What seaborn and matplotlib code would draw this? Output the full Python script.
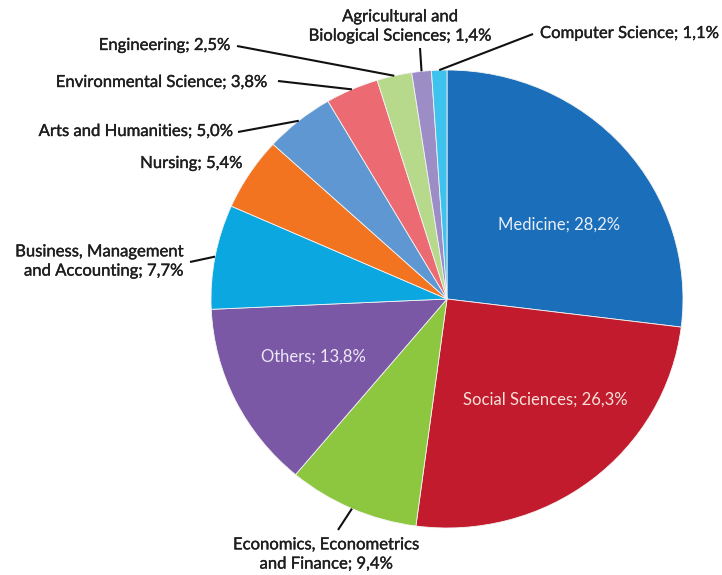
import matplotlib
matplotlib.use("Agg")
import matplotlib.pyplot as plt
import matplotlib.patheffects as pe
import seaborn as sns
import numpy as np

# Share of publications by subject area (%)
subjects = [
    "Medicine", "Social Sciences", "Economics, Econometrics\nand Finance", "Others",
    "Business, Management\nand Accounting", "Nursing", "Arts and Humanities",
    "Environmental Science", "Engineering", "Agricultural and\nBiological Sciences",
    "Computer Science",
]
shares = [28.2, 26.3, 9.4, 13.8, 7.7, 5.4, 5.0, 3.8, 2.5, 1.4, 1.1]
share_labels = ["28,2%", "26,3%", "9,4%", "13,8%", "7,7%", "5,4%", "5,0%",
                "3,8%", "2,5%", "1,4%", "1,1%"]
slice_colors = ["#1b6fba", "#c11b2d", "#8dc63f", "#7a58a6", "#0ba7e1", "#f27421",
                "#5e97d2", "#ec6a72", "#b6d98b", "#9c8dc7", "#3ec3ee"]

sns.set_theme(style="white")
plt.rcParams["font.family"] = ["Lato", "DejaVu Sans"]

W, H = 722, 575
fig = plt.figure(figsize=(W / 100, H / 100), dpi=100)
ax = fig.add_axes([0, 0, 1, 1])

# pie geometry in pixel space (slightly squashed vertically)
cx, cy, rx, ry = 447, 299, 236, 229


def px(x, y):
    """pixel position (origin top-left) -> data coordinates"""
    return (x - cx) / rx, (cy - y) / ry


palette = sns.color_palette(slice_colors)
wedges, _ = ax.pie(shares, colors=palette, startangle=90, counterclock=False,
                   wedgeprops=dict(edgecolor="#f4f4f4", linewidth=0.6))
ax.set_aspect("auto")
ax.set_xlim(px(0, 0)[0], px(W, 0)[0])
ax.set_ylim(px(0, H)[1], px(0, 0)[1])
ax.axis("off")

text_dark = "#1e1e1e"
fs = 12

# label placement: (mode, anchor x, anchor y, ha, leader end x, leader end y, colour)
layout = {
    "Medicine": ("in", 559, 225, "center", None, None, "#e8eef8"),
    "Social Sciences": ("in", 545, 400, "center", None, None, "#f6e2da"),
    "Others": ("in", 313, 357, "center", None, None, "#efe9f6"),
    "Economics, Econometrics\nand Finance": ("out", 326, 554, "center", 338, 530, text_dark),
    "Business, Management\nand Accounting": ("out", 183, 261, "right", 190, 262, text_dark),
    "Nursing": ("out", 242, 163, "right", None, None, text_dark),
    "Arts and Humanities": ("out", 232, 131, "right", 238, 132, text_dark),
    "Environmental Science": ("out", 267, 82, "right", 278, 81, text_dark),
    "Engineering": ("out", 230, 45, "right", 237, 46, text_dark),
    "Agricultural and\nBiological Sciences": ("out", 400, 26, "center", 420, 48, text_dark),
    "Computer Science": ("out", 540, 33, "left", 533, 34, text_dark),
}

for wedge, name, lab in zip(wedges, subjects, share_labels):
    mode, tx, ty, ha, lx, ly, col = layout[name]
    text = f"{name}; {lab}"
    x, y = px(tx, ty)
    effects = [pe.withStroke(linewidth=0.25, foreground=col)] if mode == "out" else []
    ax.text(x, y, text, ha=ha, va="center", fontsize=fs, color=col,
            multialignment=ha, linespacing=1.25, path_effects=effects)
    if mode == "out" and lx is not None:
        mid = np.deg2rad((wedge.theta1 + wedge.theta2) / 2)
        ex, ey = np.cos(mid), np.sin(mid)
        ax.plot([ex, px(lx, ly)[0]], [ey, px(lx, ly)[1]], color="#111111",
                lw=1.5, solid_capstyle="butt")

fig.savefig("out.png", dpi=100, facecolor="white")
